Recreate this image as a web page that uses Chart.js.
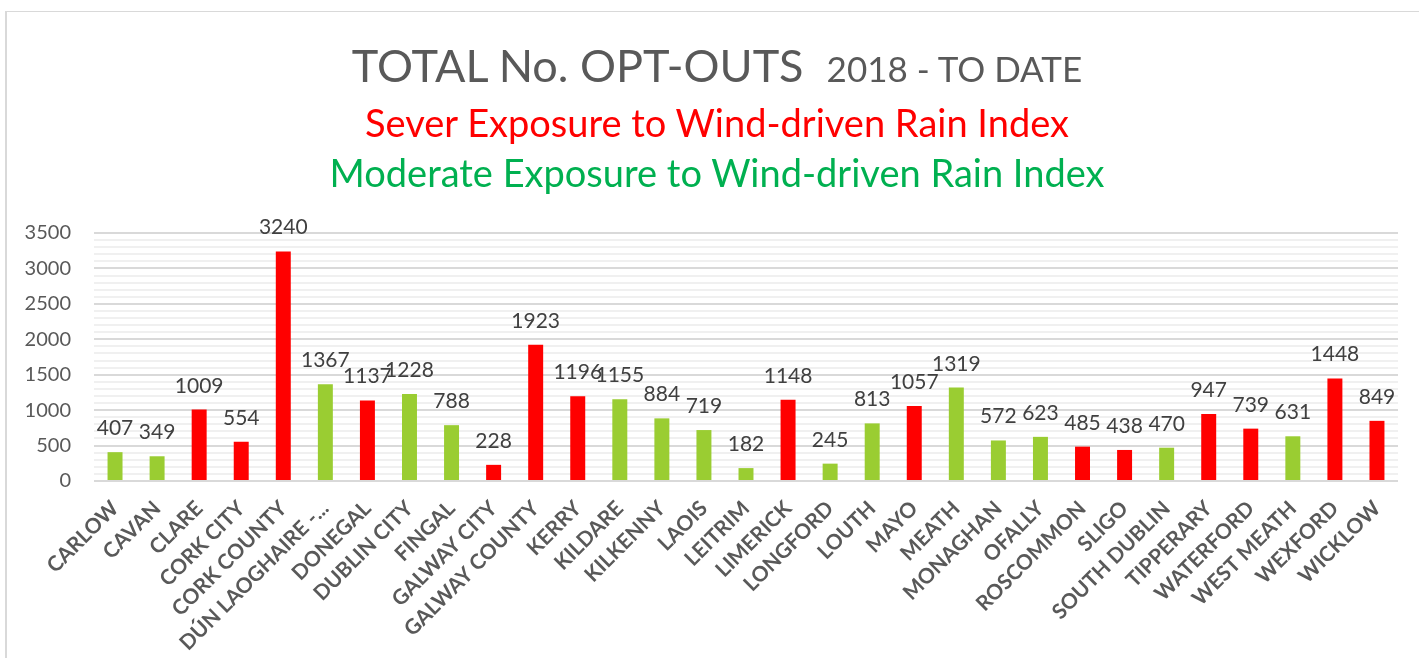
<!DOCTYPE html>
<html>
<head>
<meta charset="utf-8">
<script src="https://cdn.jsdelivr.net/npm/chart.js@4"></script>
<style>
  html, body { margin: 0; padding: 0; background: #fff; }
  body { width: 1419px; height: 658px; position: relative; overflow: hidden; }
  #frame { position: absolute; left: 5px; top: 11px; width: 1500px; height: 700px;
           border-left: 2px solid #d9d9d9; border-top: 1px solid #d9d9d9; }
  #wrap { position: absolute; left: 0; top: 0; width: 1419px; height: 658px; }
  .t { position: absolute; left: 0; width: 1419px; padding-left: 15px; box-sizing: border-box;
       text-align: center; font-family: Lato, sans-serif; line-height: 1.2; white-space: nowrap; }
  #t1 { top: 37.6px; font-size: 45px; color: #595959; }
  #t1 .small { font-size: 35px; }
  #t2 { top: 99.5px; font-size: 38px; color: #ff0000; }
  #t3 { top: 149.5px; font-size: 38px; color: #00b050; }
</style>
</head>
<body>
<div id="frame"></div>
<div id="wrap"><canvas id="c" width="1419" height="658"></canvas></div>
<div class="t" id="t1">TOTAL No. OPT-OUTS&nbsp;&nbsp;<span class="small">2018 - TO DATE</span></div>
<div class="t" id="t2">Sever Exposure to Wind-driven Rain Index</div>
<div class="t" id="t3">Moderate Exposure to Wind-driven Rain Index</div>
<script>
const categories = ['CARLOW','CAVAN','CLARE','CORK CITY','CORK COUNTY','DÚN LAOGHAIRE -...','DONEGAL','DUBLIN CITY','FINGAL','GALWAY CITY','GALWAY COUNTY','KERRY','KILDARE','KILKENNY','LAOIS','LEITRIM','LIMERICK','LONGFORD','LOUTH','MAYO','MEATH','MONAGHAN','OFALLY','ROSCOMMON','SLIGO','SOUTH DUBLIN','TIPPERARY','WATERFORD','WEST MEATH','WEXFORD','WICKLOW'];
const optOuts = [407,349,1009,554,3240,1367,1137,1228,788,228,1923,1196,1155,884,719,182,1148,245,813,1057,1319,572,623,485,438,470,947,739,631,1448,849];
// S = Severe exposure, M = Moderate exposure
const exposure = ['M','M','S','S','S','M','S','M','M','S','S','S','M','M','M','M','S','M','M','S','M','M','M','S','S','M','S','S','M','S','S'];
const yTickLabels = [0,500,1000,1500,2000,2500,3000,3500];

const exposureColors = { S: '#ff0000', M: '#9acd32' };

Chart.defaults.font.family = 'Lato, sans-serif';

const valueLabels = {
  id: 'valueLabels',
  afterDatasetsDraw(chart) {
    const ctx = chart.ctx;
    const meta = chart.getDatasetMeta(0);
    ctx.save();
    ctx.font = '21px Lato, sans-serif';
    ctx.fillStyle = '#404040';
    ctx.textAlign = 'center';
    ctx.textBaseline = 'alphabetic';
    meta.data.forEach((bar, i) => {
      ctx.fillText(String(optOuts[i]), bar.x, bar.y - 17);
    });
    ctx.restore();
  }
};

new Chart(document.getElementById('c'), {
  type: 'bar',
  data: {
    labels: categories,
    datasets: [{
      data: optOuts,
      backgroundColor: exposure.map(e => exposureColors[e]),
      borderWidth: 0,
      categoryPercentage: 1,
      barPercentage: 0.356
    }]
  },
  options: {
    responsive: false,
    animation: false,
    devicePixelRatio: 1,
    layout: { padding: { top: 233, right: 21, left: 0, bottom: 0 } },
    plugins: { legend: { display: false }, tooltip: { enabled: false } },
    scales: {
      x: {
        grid: { display: false },
        border: { display: false },
        ticks: {
          autoSkip: false,
          minRotation: 45, maxRotation: 45,
          color: '#595959',
          font: { size: 21, weight: 'bold' },
          padding: 7
        },
        afterFit(scale) { scale.height = 177; }
      },
      y: {
        min: 0, max: 3500,
        border: { display: false },
        grid: {
          drawTicks: false,
          lineWidth: 2,
          color: (c) => (c.tick && yTickLabels.includes(c.tick.value)) ? '#d9d9d9' : '#f0f0f0'
        },
        ticks: {
          stepSize: 100,
          autoSkip: false,
          maxTicksLimit: 50,
          padding: 23,
          color: '#595959',
          font: { size: 20 },
          callback: (v) => yTickLabels.includes(v) ? String(v) : ''
        },
        afterFit(scale) { scale.width = 94; }
      }
    }
  },
  plugins: [valueLabels]
});
</script>
</body>
</html>
